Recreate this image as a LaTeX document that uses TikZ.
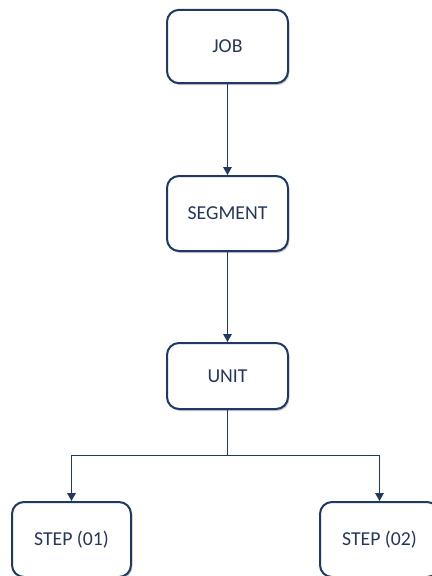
\documentclass[tikz,border=0pt]{standalone}
\usepackage{fontspec}
\setmainfont{Carlito}
\usepackage{xcolor}
\usepackage{tikz}
\usetikzlibrary{arrows.meta,shadows}

\definecolor{navyline}{RGB}{31,56,100}
\definecolor{navytext}{RGB}{38,55,92}

\begin{document}
\begin{tikzpicture}[x=0.75pt,y=0.75pt,yscale=-1,xscale=1,
  box/.style={draw=navyline, line width=1.5pt, rounded corners=9pt, fill=white,
    minimum width=90.75pt, minimum height=55pt, inner sep=0pt,
    text=navytext, font=\fontsize{14.8}{17}\selectfont,
    drop shadow={shadow xshift=1pt, shadow yshift=-1.5pt, opacity=0.35, fill=black!60}},
  link/.style={draw=navyline, line width=0.75pt},
  arr/.style={link, -{Triangle[width=6.5pt,length=6pt]}}]
\useasboundingbox (0,0) rectangle (432,576);
\clip (0,0) rectangle (432,576);

%Shape: Rounded Rect
\node (job) at (227.5,46.5) [box] {JOB};
%Shape: Rounded Rect
\node (segment) at (227.5,213.5) [box, minimum height=56.25pt] {SEGMENT};
%Shape: Rounded Rect
\node (unit) at (227.5,376) [box, minimum height=49.5pt] {UNIT};
%Shape: Rounded Rect
\node (stepone) at (71.5,539.5) [box, minimum width=89.25pt, minimum height=56.25pt] {STEP (01)};
%Shape: Rounded Rect
\node (steptwo) at (379.5,539.5) [box, minimum width=89.25pt, minimum height=56.25pt] {STEP (02)};

%Straight Lines
\draw [arr] (job) -- (segment);
\draw [arr] (segment) -- (unit);
\coordinate (fork) at (227.5,455);
\draw [link] (unit) -- (fork);
\draw [arr] (fork) -| (stepone);
\draw [arr] (fork) -| (steptwo);

\end{tikzpicture}
\end{document}
